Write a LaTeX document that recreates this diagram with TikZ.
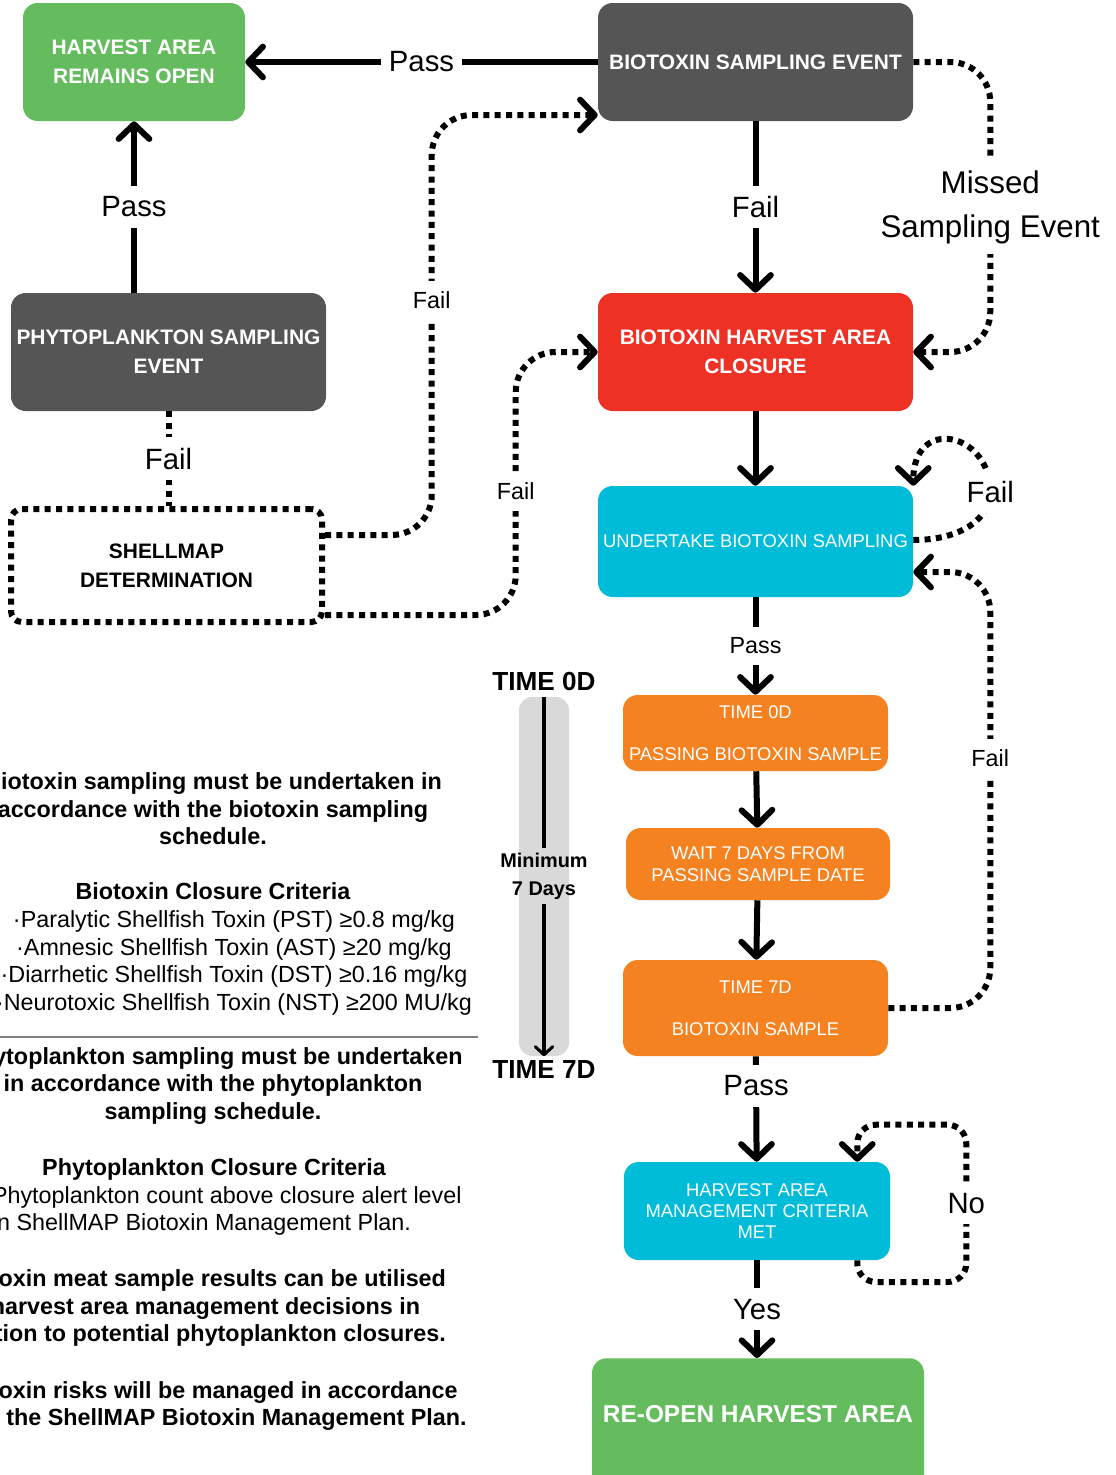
\documentclass[tikz,border=0pt]{standalone}
\usepackage{fontspec}
\setmainfont{Liberation Sans}
\usetikzlibrary{arrows.meta,positioning,calc}
\definecolor{boxgreen}{RGB}{101,188,95}
\definecolor{boxgrey}{RGB}{85,85,85}
\definecolor{boxred}{RGB}{237,49,36}
\definecolor{boxcyan}{RGB}{0,188,217}
\definecolor{boxorange}{RGB}{245,130,32}
\definecolor{bargrey}{RGB}{217,217,217}
\newcommand{\fntbox}{\fontsize{15.7pt}{21.75pt}\selectfont\bfseries}
\newcommand{\fntsm}{\fontsize{13.8pt}{16pt}\selectfont}
\newcommand{\fntlbl}{\fontsize{22pt}{33pt}\selectfont}
\newcommand{\fntlbs}{\fontsize{17.5pt}{21pt}\selectfont}
\newcommand{\fntnote}{\fontsize{17.5pt}{20.6pt}\selectfont}
\newcommand{\fnttime}{\fontsize{19.6pt}{22pt}\selectfont\bfseries}
\newcommand{\fntmin}{\fontsize{14.9pt}{21pt}\selectfont\bfseries}
\tikzset{
  blk/.style = {align=center, inner sep=0pt, text centered,
    rounded corners=11pt, text=white, font=\fntbox},
  blk_g/.style = {blk, fill=boxgreen},% open / re-open
  blk_d/.style = {blk, fill=boxgrey},% sampling events
  blk_r/.style = {blk, fill=boxred},% closure
  blk_c/.style = {blk, fill=boxcyan, font=\fntsm},% sampling, criteria
  blk_o/.style = {blk, fill=boxorange, font=\fntsm},% 7 day steps
  blk_x/.style = {blk, text=black, draw=black, line width=4.5pt,
    rounded corners=8pt, dash pattern=on 4.5pt off 4pt},% shellmap
  dotline/.style = {line width=4.5pt, dash pattern=on 4.5pt off 4pt},
  flow/.style = {line width=4.5pt,
    -{Straight Barb[length=11pt,width=23pt,round]}},
  flow_d/.style = {flow, dash pattern=on 4.5pt off 4pt},
  lbl/.style = {fill=white, font=\fntlbl, align=center, sharp corners,
    inner xsep=6pt, inner ysep=8pt},
  lbl_s/.style = {lbl, font=\fntlbs},
  note/.style = {align=center, inner sep=0pt, font=\fntnote}
}
\begin{document}
\begin{tikzpicture}[x=0.75pt, y=-0.75pt]
\useasboundingbox (0,0) rectangle (1115,1475);
\clip (0,0) rectangle (1115,1475);

% blocks
\node [blk_g, minimum width=166.5pt, minimum height=88.5pt] (open) at (134,62)
    {HARVEST AREA\\REMAINS OPEN};
\node [blk_d, minimum width=236.25pt, minimum height=88.5pt] (bse) at (755.5,62)
    {BIOTOXIN SAMPLING EVENT};
\node [blk_d, minimum width=236.25pt, minimum height=88.5pt] (phyto) at (168.5,352)
    {PHYTOPLANKTON SAMPLING\\EVENT};
\node [blk_r, minimum width=236.25pt, minimum height=88.5pt] (shut) at (755.5,352)
    {BIOTOXIN HARVEST AREA\\CLOSURE};
\node [blk_x, minimum width=233.25pt, minimum height=84.75pt] (smap) at (166.5,565.5)
    {SHELLMAP\\DETERMINATION};
\node [blk_c, minimum width=236.25pt, minimum height=83.25pt] (sample) at (755.5,541.5)
    {UNDERTAKE BIOTOXIN SAMPLING};
\node [blk_o, minimum width=198.75pt, minimum height=57pt] (t0) at (755.5,733)
    {TIME 0D\\[15.5pt]PASSING BIOTOXIN SAMPLE};
\node [blk_o, minimum width=198pt, minimum height=54pt] (wait) at (758,864)
    {WAIT 7 DAYS FROM\\PASSING SAMPLE DATE};
\node [blk_o, minimum width=198.75pt, minimum height=72pt] (t7) at (755.5,1008)
    {TIME 7D\\[15.5pt]BIOTOXIN SAMPLE};
\node [blk_c, minimum width=199.5pt, minimum height=73.5pt] (crit) at (757,1211)
    {HARVEST AREA\\MANAGEMENT CRITERIA\\MET};
\node [blk_g, anchor=north, minimum width=249pt, inner ysep=35pt,
    text height=13.1pt, text depth=40pt, font=\fontsize{18.3pt}{22pt}\selectfont\bfseries]
    (reopen) at (758,1358) {RE-OPEN HARVEST AREA};

% time bar
\node [fill=bargrey, rounded corners=10pt, minimum width=37.5pt,
    minimum height=269.25pt] (tbar) at (544,876.5) {};
\node [font=\fntmin, align=center, inner sep=3pt] (mind) at (544,876) {Minimum\\7 Days};
\node [font=\fnttime] (time0) at (544,681) {TIME 0D};
\node [font=\fnttime] (time7) at (544,1069) {TIME 7D};
\draw [line width=2.3pt] (tbar.north) -- (mind.north);
\draw [line width=2.3pt, -{Straight Barb[length=6pt,width=13pt,round]}]
    (mind.south) -- (tbar.south);

% notes
\node [note, font=\fntnote\bfseries] (n1) at (213,809)
    {Biotoxin sampling must be undertaken in\\accordance with the biotoxin sampling\\schedule.};
\node [note, font=\fntnote\bfseries] (n2) at (213,891) {Biotoxin Closure Criteria};
\node [note] (n3) at (234,963)
    {·Paralytic Shellfish Toxin (PST) ≥0.8 mg/kg\\·Amnesic Shellfish Toxin (AST) ≥20 mg/kg\\
     ·Diarrhetic Shellfish Toxin (DST) ≥0.16 mg/kg\\·Neurotoxic Shellfish Toxin (NST) ≥200 MU/kg};
\draw [gray, line width=0.8pt] (0,1037) -- (478,1037);
\node [note, font=\fntnote\bfseries] (n4) at (213,1086)
    {Phytoplankton sampling must be undertaken\\in accordance with the phytoplankton\\sampling schedule.};
\node [note, font=\fntnote\bfseries] (n5) at (214,1169) {Phytoplankton Closure Criteria};
\node [note, align=left, anchor=west] (n6) at (-16,1211)
    {·Phytoplankton count above closure alert level\\\hphantom{·}in ShellMAP Biotoxin Management Plan.};
\node [note, align=left, anchor=west, font=\fntnote\bfseries] (n7) at (-47,1308)
    {Biotoxin meat sample results can be utilised\\for harvest area management decisions in\\relation to potential phytoplankton closures.};
\node [note, align=left, anchor=west, font=\fntnote\bfseries] (n8) at (-47,1406)
    {Biotoxin risks will be managed in accordance\\with the ShellMAP Biotoxin Management Plan.};

% connectors
\draw [flow] (bse) -- node[lbl]{Pass} (open);
\draw [flow] (phyto.north -| open.south) -- node[lbl]{Pass} (open.south);
\draw [flow] (bse) -- node[lbl]{Fail} (shut);
\draw [flow_d, rounded corners=30pt] (bse.east) -| node[lbl, pos=0.75, font=\fontsize{23.5pt}{33pt}\selectfont]{Missed\\Sampling Event}
    ($(shut.east)+(77,0)$) -- (shut.east);
\draw [dotline] (phyto.south) -- node[lbl]{Fail} (phyto.south |- smap.north);
\draw [flow_d, rounded corners=30pt] ($(smap.east)+(0,-30.5)$) -| node[lbl_s, pos=0.78]{Fail}
    ($(bse.west)+(-166,53)$) -- ($(bse.west)+(0,53)$);
\draw [flow_d, rounded corners=30pt] ($(smap.east)+(0,49.5)$) -| node[lbl_s, pos=0.735]{Fail}
    ($(shut.west)+(-82,0)$) -- (shut.west);
\draw [flow] (shut) -- (sample);
\draw [flow_d] ($(sample.east)+(0,-1.5)$) .. controls +(50,0) and +(0,25) ..
    ($(sample.east)+(77,-49.5)$) node[lbl]{Fail}
    .. controls +(0,-60) and +(0,-70) .. (sample.north east);
\draw [flow_d, rounded corners=30pt] (t7.east) -| node[lbl_s, pos=0.787]{Fail}
    ($(sample.east)+(77,30.5)$) -- ($(sample.east)+(0,30.5)$);
\draw [flow] (sample) -- node[lbl_s]{Pass} (t0);
\draw [flow] (t0) -- (wait);
\draw [flow] (wait) -- (t7);
\draw [flow] (t7) -- node[lbl, pos=0.28]{Pass} (crit);
\draw [flow_d, rounded corners=14pt] ($(crit.south east)+(-33,0)$) |- ($(crit.east)+(76,71)$)
    |- node[lbl, pos=0.25]{No} ($(crit.north east)+(-33,-37)$) -- ($(crit.north east)+(-33,0)$);
\draw [flow] (crit.south) -- node[lbl]{Yes} (crit.south |- reopen.north);
\end{tikzpicture}
\end{document}
